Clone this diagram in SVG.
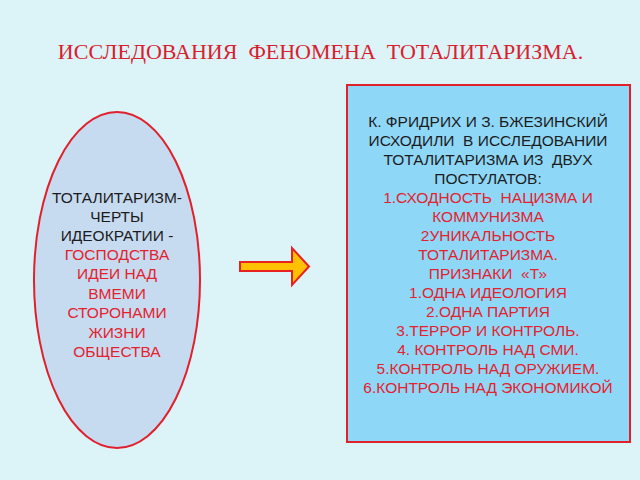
<svg xmlns="http://www.w3.org/2000/svg" width="640" height="480" viewBox="0 0 640 480">
<style>
.t{font-family:"Liberation Sans",Arial,sans-serif;font-size:15.5px;text-anchor:middle}
.k{fill:#1c1c1c}
.r{fill:#e4222e}
.title{font-family:"Liberation Serif","Times New Roman",serif;font-size:22px;fill:#d8202c;text-anchor:middle}
</style>
<rect x="0" y="0" width="640" height="480" fill="#dcf3f8"/>
<text class="title" x="320.5" y="59" xml:space="preserve">ИССЛЕДОВАНИЯ  ФЕНОМЕНА  ТОТАЛИТАРИЗМА.</text>
<g id="ellipse-node">
<ellipse cx="117" cy="280" rx="83" ry="168" fill="#c6daf0" stroke="#e0202a" stroke-width="2"/>
<text class="t k" x="117" y="203">ТОТАЛИТАРИЗМ-</text>
<text class="t k" x="117" y="222">ЧЕРТЫ</text>
<text class="t k" x="117" y="241">ИДЕОКРАТИИ -</text>
<text class="t r" x="117" y="260">ГОСПОДСТВА</text>
<text class="t r" x="117" y="279">ИДЕИ НАД</text>
<text class="t r" x="117" y="299">ВМЕМИ</text>
<text class="t r" x="117" y="318">СТОРОНАМИ</text>
<text class="t r" x="117" y="338">ЖИЗНИ</text>
<text class="t r" x="117" y="357">ОБЩЕСТВА</text>
</g>
<g id="connectors">
<path d="M240 262 H292 V248 L309 266.5 L292 285 V271 H240 Z" fill="#ffc000" stroke="#e82020" stroke-width="2" stroke-linejoin="miter"/>
</g>
<g id="box-node">
<rect x="347" y="85" width="283" height="357" fill="#8fd7f7" stroke="#e0202a" stroke-width="2"/>
<text class="t k" x="488" y="127">К. ФРИДРИХ И З. БЖЕЗИНСКИЙ</text>
<text class="t k" x="488" y="146" xml:space="preserve">ИСХОДИЛИ  В ИССЛЕДОВАНИИ</text>
<text class="t k" x="488" y="165" xml:space="preserve">ТОТАЛИТАРИЗМА ИЗ  ДВУХ</text>
<text class="t k" x="488" y="184">ПОСТУЛАТОВ:</text>
<text class="t r" x="488" y="203" xml:space="preserve">1.СХОДНОСТЬ  НАЦИЗМА И</text>
<text class="t r" x="488" y="222">КОММУНИЗМА</text>
<text class="t r" x="488" y="241">2УНИКАЛЬНОСТЬ</text>
<text class="t r" x="488" y="260">ТОТАЛИТАРИЗМА.</text>
<text class="t r" x="488" y="279" xml:space="preserve">ПРИЗНАКИ  «Т»</text>
<text class="t r" x="488" y="298">1.ОДНА ИДЕОЛОГИЯ</text>
<text class="t r" x="488" y="317">2.ОДНА ПАРТИЯ</text>
<text class="t r" x="488" y="336">3.ТЕРРОР И КОНТРОЛЬ.</text>
<text class="t r" x="488" y="355">4. КОНТРОЛЬ НАД СМИ.</text>
<text class="t r" x="488" y="374">5.КОНТРОЛЬ НАД ОРУЖИЕМ.</text>
<text class="t r" x="488" y="393">6.КОНТРОЛЬ НАД ЭКОНОМИКОЙ</text>
</g>
</svg>
